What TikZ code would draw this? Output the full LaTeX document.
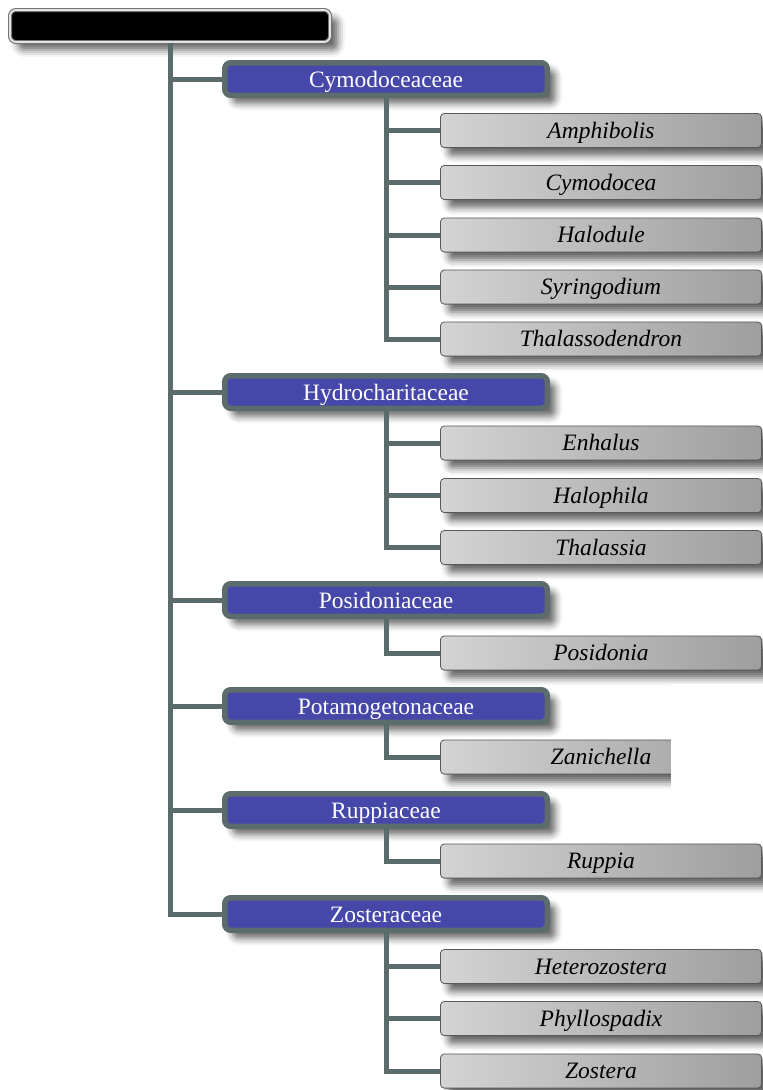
\documentclass[tikz,border=0pt]{standalone}
\usepackage{fontspec}
\setmainfont{Liberation Serif}
\usetikzlibrary{shadows.blur}
\definecolor{linkc}{HTML}{5B6A6B}
\definecolor{famfill}{HTML}{4547A9}
\definecolor{famline}{HTML}{5C6B6C}
\tikzset{
  conn/.style={draw=linkc, line width=5pt},
  myshadow/.style={blur shadow={shadow xshift=8pt, shadow yshift=-8pt, shadow blur radius=7pt, shadow opacity=60}},
  rootbox/.style={fill=black, draw=black!55, double=white!90!black, double distance=1.8pt, line width=1.1pt,
    rounded corners=6pt, minimum width=320pt, minimum height=32pt, inner sep=0pt, myshadow},
  fambox/.style={draw=famline, line width=5.5pt, fill=famfill, rounded corners=6pt,
    minimum width=322.5pt, minimum height=32.5pt, inner sep=0pt, text=white,
    font=\fontsize{23.5}{26}\selectfont, text height=22pt, text depth=4.6pt, myshadow},
  genbox/.style={draw=black!65, line width=0.8pt, left color=black!17, right color=black!38,
    rounded corners=4pt, minimum width=321.2pt, minimum height=34.2pt, inner sep=0pt,
    font=\fontsize{23.5}{26}\selectfont\itshape, text height=21.6pt, text depth=5.8pt, myshadow},
}
\begin{document}
\begin{tikzpicture}[x=1pt,y=-1pt]
\useasboundingbox (0,0) rectangle (763,1090);
\node[rootbox] (root) at (170,26) {};
% families
\node[fambox] (f1) at (386,79) {Cymodoceaceae};
\node[fambox] (f2) at (386,392) {Hydrocharitaceae};
\node[fambox] (f3) at (386,600) {Posidoniaceae};
\node[fambox] (f4) at (386,706) {Potamogetonaceae};
\node[fambox] (f5) at (386,810) {Ruppiaceae};
\node[fambox] (f6) at (386,914) {Zosteraceae};
% genera
\node[genbox] (g11) at (601,130.5) {Amphibolis};
\node[genbox] (g12) at (601,182.5) {Cymodocea};
\node[genbox] (g13) at (601,235) {Halodule};
\node[genbox] (g14) at (601,287) {Syringodium};
\node[genbox] (g15) at (601,339) {Thalassodendron};
\node[genbox] (g21) at (601,443) {Enhalus};
\node[genbox] (g22) at (601,495.5) {Halophila};
\node[genbox] (g23) at (601,547.5) {Thalassia};
\node[genbox] (g31) at (601,653) {Posidonia};
\node[genbox] (g41) at (601,757) {Zanichella};
\node[genbox] (g51) at (601,861) {Ruppia};
\node[genbox] (g61) at (601,966.5) {Heterozostera};
\node[genbox] (g62) at (601,1018.5) {Phyllospadix};
\node[genbox] (g63) at (601,1071) {Zostera};
% white patch
\fill[white] (671,684) rectangle (763,798);
% connectors
\foreach \f in {f1,f2,f3,f4,f5,f6} \draw[conn] (root.south) |- (\f.west);
\foreach \g in {g11,g12,g13,g14,g15} \draw[conn] (f1.south) |- (\g.west);
\foreach \g in {g21,g22,g23} \draw[conn] (f2.south) |- (\g.west);
\draw[conn] (f3.south) |- (g31.west);
\draw[conn] (f4.south) |- (g41.west);
\draw[conn] (f5.south) |- (g51.west);
\foreach \g in {g61,g62,g63} \draw[conn] (f6.south) |- (\g.west);
\end{tikzpicture}
\end{document}
